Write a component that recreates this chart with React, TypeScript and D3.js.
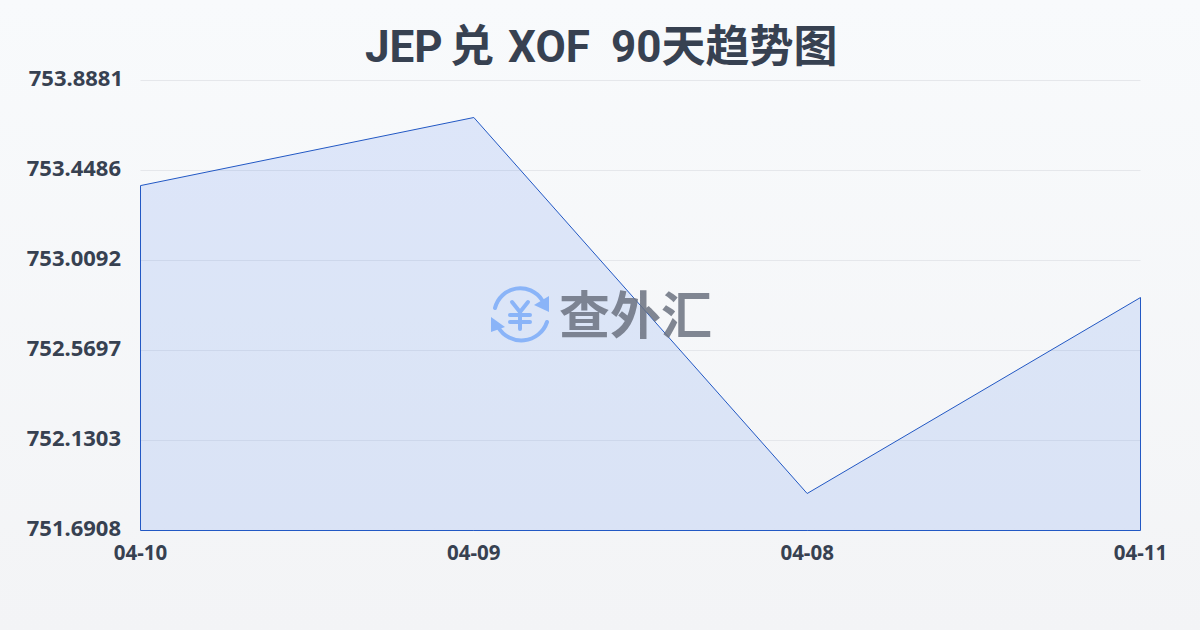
import React from "react";
import * as d3 from "d3";

const categories = ["04-10", "04-09", "04-08", "04-11"];
const values = [753.375, 753.7074, 751.8715, 752.8285];
const yTickLabels = ["753.8881", "753.4486", "753.0092", "752.5697", "752.1303", "751.6908"];
const yMax = 753.8881;
const yMin = 751.6908;
const titleParts = ["JEP", "兑", "XOF", "90天趋势图"];
const brand = "查外汇";

const W = 1200, H = 630;
const L = 140.5, R = 1140.5, T = 80.5, B = 530.5;
const CJK = '"Noto Sans CJK SC", sans-serif';
const TITLE_FONT = `Roboto, ${CJK}`;
const LABEL_FONT = `"Noto Sans", ${CJK}`;
const titleX = [365, 450, 508, 611];

export default function App() {
  const x = d3.scalePoint<string>().domain(categories).range([L, R]);
  const y = d3.scaleLinear().domain([yMin, yMax]).range([B, T]);
  const pts = categories.map((c, i) => [x(c) as number, y(values[i])] as [number, number]);
  const area = d3.area<[number, number]>().x(d => d[0]).y0(B).y1(d => d[1])(pts) as string;
  const gridY = d3.range(yTickLabels.length).map(i => T + (i * (B - T)) / (yTickLabels.length - 1));

  return (
    <svg width={W} height={H} viewBox={`0 0 ${W} ${H}`}
      style={{ position: "fixed", left: 0, top: 0, display: "block" }}>
      <defs>
        <linearGradient id="bg" x1="0" y1="0" x2="0" y2="1">
          <stop offset="0" stopColor="#f8fafc" />
          <stop offset="1" stopColor="#f3f4f6" />
        </linearGradient>
      </defs>
      <rect width={W} height={H} fill="url(#bg)" />
      <text y={62} fontFamily={TITLE_FONT} fontWeight={700} fontSize={44} fill="#374151">
        {titleParts.map((p, i) => <tspan key={p} x={titleX[i]}>{p}</tspan>)}
      </text>
      {gridY.map((gy, i) => (
        <line key={i} x1={L} x2={R} y1={gy} y2={gy} stroke="#e5e7eb" strokeWidth={1} />
      ))}
      <path d={area} fill="#2563eb" fillOpacity={0.12} stroke="none" />
      <path d={area} fill="none" stroke="#2258c4" strokeWidth={1} />
      {yTickLabels.map((t, i) => (
        <text key={t} x={i === 0 ? 123 : 121} y={gridY[i] + 5} textAnchor="end" fontFamily={LABEL_FONT} fontWeight={700} fontSize={22} fill="#374151">{t}</text>
      ))}
      {categories.map(c => (
        <text key={c} x={x(c)} y={560} textAnchor="middle" fontFamily={LABEL_FONT} fontWeight={700} fontSize={20.5} fill="#374151">{c}</text>
      ))}
      <g>
        <g fill="none" stroke="#8ab4f8" strokeWidth={4} strokeLinecap="round">
          <path d="M 495 308 A 26 26 0 0 1 542 300" />
          <path d="M 547 322 A 27 27 0 0 1 498 327" />
          <path d="M 512 302 L 520 312 L 528 302 M 520 312 L 520 329 M 510 315 L 530 315 M 510 322 L 530 322" />
        </g>
        <path d="M 549 296 L 549 312 L 534 305 Z" fill="#8ab4f8" />
        <path d="M 491 317 L 491 332 L 505 327 Z" fill="#8ab4f8" />
      </g>
      <text x={559} y={334} fontFamily={CJK} fontWeight={700} fontSize={51} fill="#6b7280" fillOpacity={0.85}>{brand}</text>
    </svg>
  );
}
